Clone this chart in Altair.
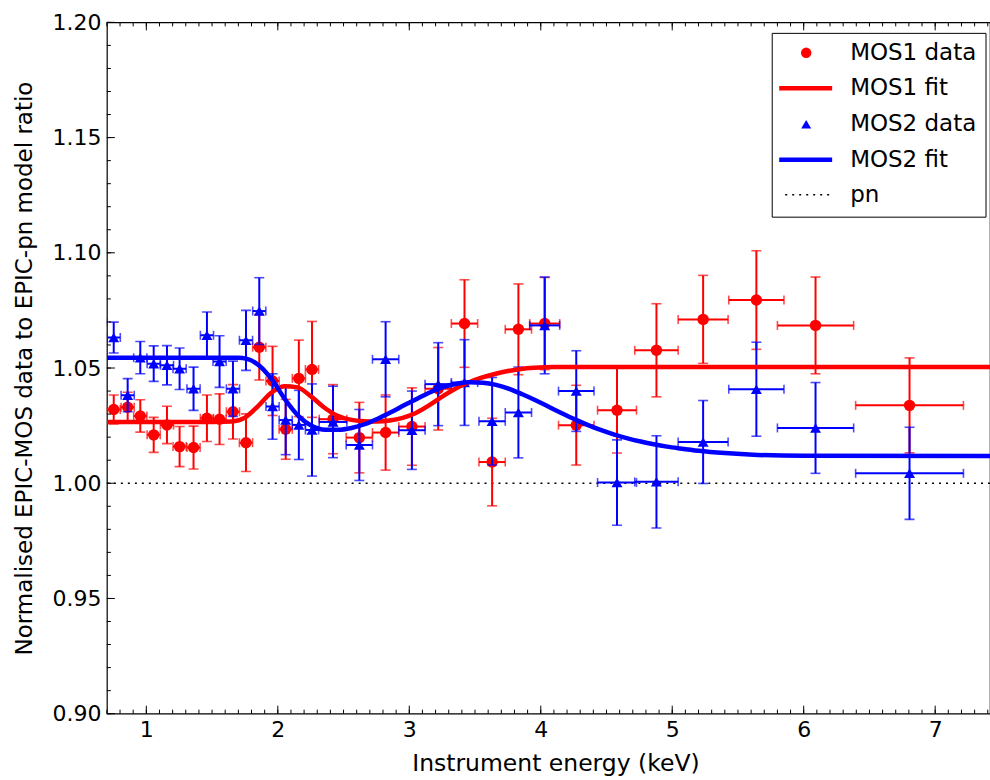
import altair as alt
import pandas as pd

# ---------------- data ----------------
energy = [0.65, 0.752, 0.858, 0.954, 1.056, 1.157, 1.253, 1.359, 1.461, 1.557, 1.659, 1.758,
          1.859, 1.96, 2.06, 2.16, 2.26, 2.42, 2.62, 2.82, 3.02, 3.22, 3.42, 3.63, 3.83,
          4.03, 4.27, 4.58, 4.88, 5.235, 5.64, 6.09, 6.805]
energy_err = [0.05, 0.05, 0.05, 0.05, 0.05, 0.05, 0.05, 0.05, 0.05, 0.05, 0.05, 0.05,
              0.05, 0.05, 0.05, 0.05, 0.05, 0.105, 0.1, 0.1, 0.1, 0.1, 0.1, 0.1, 0.1,
              0.114, 0.135, 0.148, 0.165, 0.19, 0.21, 0.29, 0.41]

mos1_ratio = [1.032, 1.032, 1.033, 1.0292, 1.021, 1.0253, 1.0159, 1.0155, 1.0282, 1.0278, 1.031,
              1.0176, 1.059, 1.0444, 1.0234, 1.0455, 1.0494, 1.0278, 1.0198, 1.022, 1.0246,
              1.041, 1.0693, 1.0092, 1.0668, 1.0693, 1.0252, 1.0317, 1.0577, 1.0711, 1.0795,
              1.0685, 1.0338]
mos1_err = [0.006, 0.0063, 0.0065, 0.007, 0.0076, 0.0081, 0.0087, 0.0093, 0.0101, 0.011, 0.0118,
            0.0125, 0.0142, 0.015, 0.013, 0.0166, 0.0208, 0.015, 0.0153, 0.0163, 0.0168,
            0.0179, 0.019, 0.019, 0.0197, 0.020, 0.0173, 0.0186, 0.0202, 0.0191, 0.0214,
            0.021, 0.0206]

mos2_ratio = [1.0697, 1.0632, 1.0382, 1.0545, 1.0519, 1.0512, 1.0497, 1.041, 1.0642, 1.0528, 1.041,
              1.062, 1.0747, 1.0333, 1.0274, 1.0253, 1.0231, 1.0266, 1.0166, 1.0538, 1.023,
              1.043, 1.0437, 1.0269, 1.0307, 1.0685, 1.040, 1.0003, 1.0006, 1.0179, 1.0408,
              1.024, 1.0043]
mos2_err = [0.0065, 0.0067, 0.0072, 0.007, 0.0077, 0.0085, 0.009, 0.0094, 0.0101, 0.0112, 0.012,
            0.013, 0.0145, 0.0142, 0.015, 0.015, 0.02, 0.0155, 0.0154, 0.0163, 0.017,
            0.018, 0.0186, 0.019, 0.0197, 0.021, 0.0175, 0.0185, 0.02, 0.018, 0.0204,
            0.0197, 0.02]

mos1_fit_energy = [0.7, 1.5, 1.65, 1.75, 1.85, 1.95, 2.05, 2.15, 2.25, 2.35, 2.45, 2.55, 2.65,
                   2.75, 2.85, 2.95, 3.05, 3.15, 3.25, 3.35, 3.45, 3.55, 3.65, 3.75, 3.85,
                   3.95, 4.1, 4.4, 7.42]
mos1_fit_ratio = [1.0266, 1.0266, 1.0268, 1.0285, 1.0335, 1.0393, 1.0421, 1.0416, 1.0378, 1.0330,
                  1.0294, 1.0276, 1.0269, 1.0268, 1.0272, 1.0284, 1.0305, 1.0338, 1.0376, 1.0410,
                  1.0437, 1.0458, 1.0474, 1.0487, 1.0496, 1.0501, 1.0504, 1.0504, 1.0504]

mos2_fit_energy = [0.7, 1.5, 1.70, 1.76, 1.86, 1.96, 2.06, 2.16, 2.26, 2.36, 2.46, 2.56, 2.66,
                   2.76, 2.86, 2.96, 3.06, 3.16, 3.26, 3.36, 3.46, 3.56, 3.66, 3.76, 3.86,
                   3.96, 4.06, 4.16, 4.26, 4.36, 4.46, 4.56, 4.66, 4.76, 4.86, 4.96, 5.06,
                   5.2, 5.4, 5.65, 6.0, 7.42]
mos2_fit_ratio = [1.0545, 1.0545, 1.0545, 1.0541, 1.0510, 1.0446, 1.0360, 1.0290, 1.0248, 1.0232,
                  1.0232, 1.0240, 1.0256, 1.0280, 1.0308, 1.0338, 1.0367, 1.0395, 1.0418, 1.0432,
                  1.0438, 1.0436, 1.0427, 1.0410, 1.0386, 1.0360, 1.0332, 1.0304, 1.0277, 1.0252,
                  1.0230, 1.0211, 1.0195, 1.0181, 1.0169, 1.0159, 1.0151, 1.0141, 1.0131, 1.0123,
                  1.0119, 1.0118]

pn_level = [1.0]

x_major = [1, 2, 3, 4, 5, 6, 7]
x_minor = [round(0.7 + 0.1 * i, 2) for i in range(68)]
y_major = [0.90, 0.95, 1.00, 1.05, 1.10, 1.15, 1.20]
y_minor = [round(0.90 + 0.01 * i, 2) for i in range(31)]

legend_labels = ["MOS1 data", "MOS1 fit", "MOS2 data", "MOS2 fit", "pn"]

# ---------------- styling ----------------
RED = "#ff0000"
BLUE = "#0000ff"
FONT = "DejaVu Sans"
W, H = 884, 692
XDOM = [0.7, 7.417]
YDOM = [0.9, 1.2]

xscale = alt.Scale(domain=XDOM, nice=False, zero=False)
yscale = alt.Scale(domain=YDOM, nice=False, zero=False)

xaxis = alt.Axis(values=x_major, format="d", ticks=False, domain=False, grid=False,
                 labelFont=FONT, labelFontSize=22, labelColor="black", labelPadding=6,
                 title="Instrument energy (keV)", titleFont=FONT, titleFontSize=23.5,
                 titleFontWeight="normal", titleColor="black", titleX=449, titleY=50,
                 titleBaseline="middle", titleAlign="center")
yaxis = alt.Axis(values=y_major, format=".2f", ticks=False, domain=False, grid=False,
                 labelFont=FONT, labelFontSize=22, labelColor="black", labelPadding=6,
                 title="Normalised EPIC-MOS data to EPIC-pn model ratio", titleFont=FONT,
                 titleFontSize=23, titleFontWeight="normal", titleColor="black",
                 titleAngle=270, titleX=-82, titleY=346, titleBaseline="middle",
                 titleAlign="center")


def X(field):
    return alt.X(field, type="quantitative", scale=xscale, axis=xaxis)


def Y(field):
    return alt.Y(field, type="quantitative", scale=yscale, axis=yaxis)


def series_df(ratio, err):
    return pd.DataFrame({
        "E": energy,
        "Elo": [e - d for e, d in zip(energy, energy_err)],
        "Ehi": [e + d for e, d in zip(energy, energy_err)],
        "R": ratio,
        "Rlo": [r - d for r, d in zip(ratio, err)],
        "Rhi": [r + d for r, d in zip(ratio, err)],
    })


def data_layers(df, color, shape, size):
    base = alt.Chart(df)
    return [
        base.mark_rule(color=color, strokeWidth=2, clip=True).encode(x=X("Elo"), x2="Ehi", y=Y("R")),
        base.mark_rule(color=color, strokeWidth=2, clip=True).encode(x=X("E"), y=Y("Rlo"), y2="Rhi"),
        base.mark_tick(color=color, orient="vertical", size=9, thickness=1.6, clip=True).encode(x=X("Elo"), y=Y("R")),
        base.mark_tick(color=color, orient="vertical", size=9, thickness=1.6, clip=True).encode(x=X("Ehi"), y=Y("R")),
        base.mark_tick(color=color, orient="horizontal", size=10, thickness=1.6, clip=True).encode(x=X("E"), y=Y("Rlo")),
        base.mark_tick(color=color, orient="horizontal", size=10, thickness=1.6, clip=True).encode(x=X("E"), y=Y("Rhi")),
        base.mark_point(shape=shape, filled=True, size=size, color=color, opacity=1, clip=True).encode(x=X("E"), y=Y("R")),
    ]


mos1 = series_df(mos1_ratio, mos1_err)
mos2 = series_df(mos2_ratio, mos2_err)

fit1 = pd.DataFrame({"E": mos1_fit_energy, "R": mos1_fit_ratio})
fit2 = pd.DataFrame({"E": mos2_fit_energy, "R": mos2_fit_ratio})
pn = pd.DataFrame({"R": pn_level})

pn_line = alt.Chart(pn).mark_rule(color="black", strokeWidth=1.6, strokeDash=[2, 5]).encode(
    y=Y("R"), x=alt.value(0), x2=alt.value(W))

fit1_line = alt.Chart(fit1).mark_line(color=RED, strokeWidth=4.5, interpolate="monotone", clip=True).encode(
    x=X("E"), y=Y("R"))
fit2_line = alt.Chart(fit2).mark_line(color=BLUE, strokeWidth=4.5, interpolate="monotone", clip=True).encode(
    x=X("E"), y=Y("R"))

# inward ticks
xmaj = pd.DataFrame({"E": x_major})
xmin = pd.DataFrame({"E": x_minor})
ymaj = pd.DataFrame({"R": y_major})
ymin = pd.DataFrame({"R": y_minor})
tick_layers = [
    alt.Chart(xmaj).mark_rule(color="black", strokeWidth=1).encode(x=X("E"), y=alt.value(H), y2=alt.value(H - 8)),
    alt.Chart(xmin).mark_rule(color="black", strokeWidth=1).encode(x=X("E"), y=alt.value(H), y2=alt.value(H - 4)),
    alt.Chart(xmaj).mark_rule(color="black", strokeWidth=1).encode(x=X("E"), y=alt.value(0), y2=alt.value(8)),
    alt.Chart(xmin).mark_rule(color="black", strokeWidth=1).encode(x=X("E"), y=alt.value(0), y2=alt.value(4)),
    alt.Chart(ymaj).mark_rule(color="black", strokeWidth=1).encode(y=Y("R"), x=alt.value(0), x2=alt.value(8)),
    alt.Chart(ymin).mark_rule(color="black", strokeWidth=1).encode(y=Y("R"), x=alt.value(0), x2=alt.value(4)),
]

# legend (drawn manually)
LX0, LX1, LY0, LY1 = 666, 880, 11, 195
rows = [30.5, 66, 102, 137.5, 172.5]
SYMX, LINE0, LINE1, TEXTX = 700, 673, 726, 744
leg_df = pd.DataFrame({"label": legend_labels})
legend_layers = [
    alt.Chart(leg_df.head(1)).mark_rect(fill="white", stroke="black", strokeWidth=1).encode(
        x=alt.value(LX0), x2=alt.value(LX1), y=alt.value(LY0), y2=alt.value(LY1)),
    alt.Chart(leg_df.head(1)).mark_point(shape="circle", filled=True, size=110, color=RED, opacity=1).encode(
        x=alt.value(SYMX), y=alt.value(rows[0])),
    alt.Chart(leg_df.head(1)).mark_rule(color=RED, strokeWidth=4.5).encode(
        x=alt.value(LINE0), x2=alt.value(LINE1), y=alt.value(rows[1])),
    alt.Chart(leg_df.head(1)).mark_point(shape="triangle-up", filled=True, size=100, color=BLUE, opacity=1).encode(
        x=alt.value(SYMX), y=alt.value(rows[2])),
    alt.Chart(leg_df.head(1)).mark_rule(color=BLUE, strokeWidth=4.5).encode(
        x=alt.value(LINE0), x2=alt.value(LINE1), y=alt.value(rows[3])),
    alt.Chart(leg_df.head(1)).mark_rule(color="black", strokeWidth=1.6, strokeDash=[2, 5]).encode(
        x=alt.value(LINE0 + 6), x2=alt.value(LINE1), y=alt.value(rows[4])),
]
for i, lab in enumerate(legend_labels):
    legend_layers.append(
        alt.Chart(leg_df.iloc[[i]]).mark_text(font=FONT, fontSize=23, align="left", baseline="middle",
                                               color="black").encode(
            x=alt.value(TEXTX), y=alt.value(rows[i]), text="label:N"))

layers = ([pn_line] + data_layers(mos1, RED, "circle", 130) + data_layers(mos2, BLUE, "triangle-up", 120)
          + [fit1_line, fit2_line] + tick_layers + legend_layers)

chart = alt.layer(*layers).properties(
    width=W, height=H,
    autosize=alt.AutoSizeParams(type="none"),
    padding={"left": 107, "top": 22, "right": 0, "bottom": 66},
    background="white",
).configure_view(stroke="black", strokeWidth=1.2)

chart.save("out.html", embed_options={"renderer": "svg", "actions": False})
